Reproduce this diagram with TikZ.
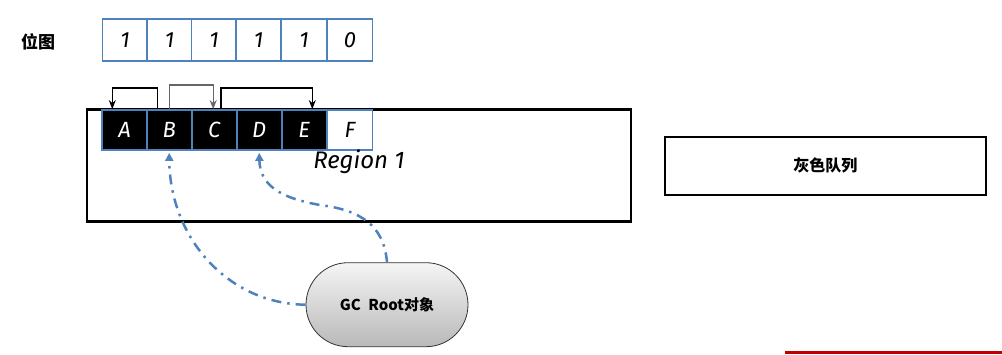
\documentclass[tikz,border=0pt]{standalone}
\usepackage{fontspec}
\newfontfamily\cjk{Noto Sans CJK SC}
\newfontfamily\hand{Fira Sans}
\usetikzlibrary{arrows.meta}
\definecolor{cellblue}{HTML}{4F81BD}
\definecolor{darkred}{HTML}{C00000}
\tikzset{
  bitcell/.style={draw=cellblue,line width=1.8pt,fill=white,minimum width=45pt,minimum height=42pt,inner sep=0pt,font=\hand\itshape\fontsize{22}{22}\selectfont},
  objcell/.style={draw=cellblue,line width=1.8pt,fill=black,text=white,minimum width=45pt,minimum height=40pt,inner sep=0pt,font=\hand\itshape\fontsize{22}{22}\selectfont},
  freecell/.style={objcell,fill=white,text=black},
  bigbox/.style={draw=black,line width=2.3pt,inner sep=0pt},
  conn/.style={draw=black,line width=1.3pt,-{Stealth[length=9pt,width=7pt]}},
  connlight/.style={conn,draw=black!60},
  dd/.style={draw=cellblue,line width=2.5pt,dash pattern=on 10pt off 6pt on 2.5pt off 6pt,-{Triangle[length=8pt,width=8pt]}},
  cjklabel/.style={font=\cjk\bfseries\fontsize{16}{16}\selectfont}
}
\begin{document}
\begin{tikzpicture}[x=1pt,y=-1pt]
\useasboundingbox (0,0) rectangle (1002,354);
% bitmap
\node[cjklabel,font=\cjk\bfseries\fontsize{17}{17}\selectfont] (bmlabel) at (38,42) {位图};
\node[bitcell] (b1) at (125,40) {1};
\node[bitcell] (b2) at (169.5,40) {1};
\node[bitcell] (b3) at (214,40) {1};
\node[bitcell] (b4) at (258.5,40) {1};
\node[bitcell] (b5) at (304,40) {1};
\node[bitcell] (b6) at (350,40) {0};
% region
\node[bigbox,minimum width=544pt,minimum height=112pt] (region) at (359,165.5) {};
\node[objcell] (A) at (124.7,130) {A};
\node[objcell] (B) at (169.2,130) {B};
\node[objcell] (C) at (214.2,130) {C};
\node[objcell] (D) at (259.2,130) {D};
\node[objcell] (E) at (304.2,130) {E};
\node[freecell] (F) at (350,130) {F};
\node[font=\hand\itshape\fontsize{24}{24}\selectfont] (rlabel) at (359,162) {Region 1};
% references
\draw[conn] ([xshift=-11.5pt]B.north) -- ++(0,-21) -| ([xshift=-12.4pt]A.north);
\draw[connlight] (B.north) -- ++(0,-24) -| ([xshift=-1pt]C.north);
\draw[conn] ([xshift=6.8pt]C.north) -- ++(0,-21) -| ([xshift=8.1pt]E.north);
% grey queue
\node[bigbox,minimum width=321pt,minimum height=58pt,cjklabel] (queue) at (825.3,165.7) {灰色队列};
% GC root
\node[draw=black!80,line width=0.8pt,rounded corners=42pt,minimum width=162pt,minimum height=84pt,top color=gray!8,bottom color=gray!55,font=\cjk\bfseries\fontsize{15}{15}\selectfont] (gc) at (387,304.7) {GC\hspace{0.5em}Root对象};
\draw[dd] (gc.west) .. controls (230,304) and (170,240) .. ([yshift=-2pt]B.south);
\draw[dd] (gc.north) .. controls (384,225) and (360,210) .. (320,205) .. controls (280,198) and (260,185) .. ([yshift=-2pt]D.south);
% cropped bar at bottom
\fill[darkred] (785,350.5) rectangle (1002,354);
\end{tikzpicture}
\end{document}
